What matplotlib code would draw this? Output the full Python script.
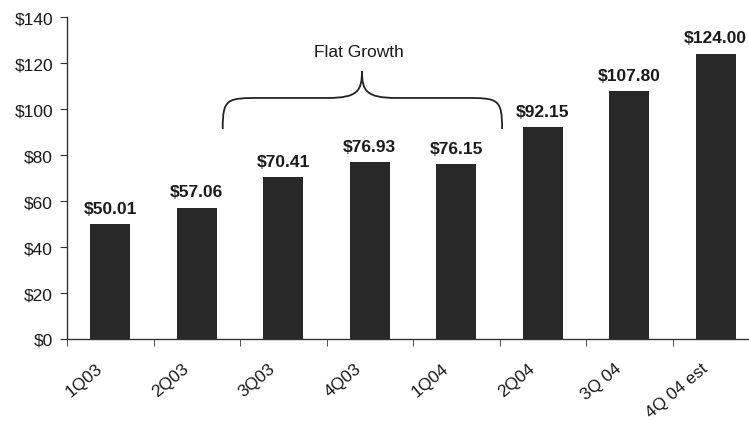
"""
Quarterly value bar chart, with a brace marking the flat stretch
from 3Q03 to 1Q04.
"""

import matplotlib
matplotlib.use("Agg")
import matplotlib.pyplot as plt
import matplotlib.transforms as mtransforms
from matplotlib.path import Path
from matplotlib.patches import PathPatch

plt.rcParams['font.family'] = ['Liberation Sans', 'DejaVu Sans']

# Data
quarters = ["1Q03", "2Q03", "3Q03", "4Q03", "1Q04", "2Q04", "3Q 04", "4Q 04 est"]
values = [50.01, 57.06, 70.41, 76.93, 76.15, 92.15, 107.80, 124.00]
bar_labels = ["$50.01", "$57.06", "$70.41", "$76.93", "$76.15",
              "$92.15", "$107.80", "$124.00"]
y_ticks = [0, 20, 40, 60, 80, 100, 120, 140]
y_tick_labels = ["$0", "$20", "$40", "$60", "$80", "$100", "$120", "$140"]
brace_text = "Flat Growth"

fig = plt.figure(figsize=(7.49, 4.31), dpi=100)
# axes run a little past the right edge, like the scan
ax = fig.add_axes([67 / 749, 91 / 431, 692 / 749, 322 / 431])

x = range(len(quarters))
ax.bar(x, values, width=0.46, color="#282828", zorder=2)

for xi, v, lab in zip(x, values, bar_labels):
    ax.annotate(lab, (xi, v), xytext=(0, 6), textcoords="offset points",
                ha="center", va="bottom", fontsize=12.5, fontweight="bold",
                color="#1a1a1a")

ax.set_xlim(-0.5, len(quarters) - 0.5)
ax.set_ylim(0, 140)

ax.set_yticks(y_ticks)
ax.set_yticklabels(y_tick_labels, fontsize=12.5, color="#1a1a1a")

# labels at bar centres, tick marks at the boundaries
ax.set_xticks(list(x))
ax.set_xticklabels(quarters, rotation=40, ha="right", rotation_mode="anchor",
                   fontsize=12.5, color="#1a1a1a")
ax.tick_params(axis="x", which="major", length=0, pad=15)
ax.set_xticks([i - 0.5 for i in x], minor=True)
ax.tick_params(axis="x", which="minor", length=5, direction="out",
               color="#333333")
ax.tick_params(axis="y", length=5, direction="out", color="#333333", pad=5)

# nudge the slanted labels left so they end just short of the bar centre
shift = mtransforms.ScaledTranslation(-15 / 100, 0, fig.dpi_scale_trans)
for t in ax.get_xticklabels():
    t.set_transform(t.get_transform() + shift)

for side in ["top", "right"]:
    ax.spines[side].set_visible(False)
for side in ["left", "bottom"]:
    ax.spines[side].set_color("#333333")
    ax.spines[side].set_linewidth(1.0)

# curly brace over 3Q03..1Q04
left, right, mid = 1.30, 4.53, 2.91
low, flat, peak = 91.3, 104.8, 116.5
verts = [
    (left, low),
    (left, flat), (left + 0.05, flat), (left + 0.45, flat),
    (mid - 0.4, flat),
    (mid - 0.05, flat), (mid, flat + 3), (mid, peak),
    (mid, flat + 3), (mid + 0.05, flat), (mid + 0.4, flat),
    (right - 0.45, flat),
    (right - 0.05, flat), (right, flat), (right, low),
]
codes = [Path.MOVETO,
         Path.CURVE4, Path.CURVE4, Path.CURVE4,
         Path.LINETO,
         Path.CURVE4, Path.CURVE4, Path.CURVE4,
         Path.CURVE4, Path.CURVE4, Path.CURVE4,
         Path.LINETO,
         Path.CURVE4, Path.CURVE4, Path.CURVE4]
ax.add_patch(PathPatch(Path(verts, codes), fill=False, lw=1.3,
                       edgecolor="#222222", clip_on=False))
ax.text(mid - 0.04, 124.8, brace_text, ha="center", va="center",
        fontsize=12.5, color="#1a1a1a")

fig.savefig("out.png", dpi=100)
